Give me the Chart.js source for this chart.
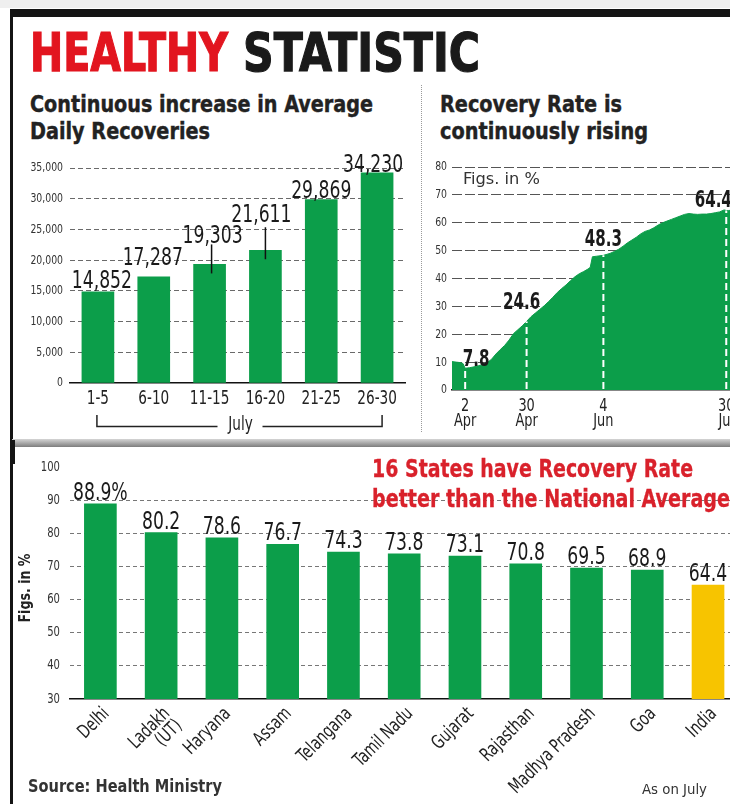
<!DOCTYPE html>
<html><head><meta charset="utf-8">
<script src="https://cdn.jsdelivr.net/npm/chart.js@4.4.0/dist/chart.umd.min.js"></script>
<style>
html,body{margin:0;padding:0;width:730px;height:804px;overflow:hidden;background:#fff;}
#root{position:relative;width:730px;height:804px;overflow:hidden;}
.abs{position:absolute;}
.t{position:absolute;white-space:nowrap;line-height:1;transform-origin:0 0;}
canvas{position:absolute;}
</style></head><body><div id="root">
<div class="abs" style="left:0;top:0;width:730px;height:8px;background:#efefef"></div>
<div class="abs" style="left:10px;top:9px;width:720px;height:8px;background:#141414"></div>
<div class="abs" style="left:10px;top:9px;width:2.5px;height:795px;background:#141414"></div>
<div class="abs" style="left:12px;top:439px;width:718px;height:8px;background:linear-gradient(#d5d5d5,#7d7d7d)"></div>
<div class="abs" style="left:10px;top:440px;width:5px;height:24px;background:#141414"></div>
<div class="abs" style="left:421px;top:85px;height:347px;border-left:1.5px dotted #9a9a9a"></div>
<canvas id="c1" width="420" height="290" style="left:0;top:150px;width:420px;height:290px"></canvas>
<canvas id="c2" width="330" height="290" style="left:421px;top:150px;width:330px;height:290px"></canvas>
<canvas id="c3" width="760" height="354" style="left:0;top:450px;width:760px;height:354px"></canvas>
</div>
<script>
// ---------- data ----------
const periodLabels = ['1-5','6-10','11-15','16-20','21-25','26-30'];
const avgRecoveries = [14852,17287,19303,21611,29869,34230];

// day number counted from 31 March (1 = 1 Apr)
const recDays  = [-4,-2,0,1,2,4,6,8,10,12,14,16,18,20,22,24,26,28,30,32,34,36,38,40,42,44,46,48,50,52,54,56,58,59,60,62,65,68,70,72,74,76,78,80,82,84,86,88,90,92,94,96,98,100,102,104,106,108,110,112,114,116,118,120,121,122,124];
const recRates = [10.2,10.0,9.8,9.5,7.8,8.0,8.3,8.7,9.1,9.8,11.0,12.9,14.5,16.0,17.9,20.2,21.6,23.0,24.6,26.3,27.6,28.9,30.2,31.7,33.3,35.0,36.4,37.7,39.2,40.6,41.7,42.5,43.4,44.0,47.8,48.0,48.3,49.0,49.7,50.5,51.6,52.8,53.8,54.8,56.0,56.9,57.4,58.2,59.2,60.0,60.6,61.2,61.8,62.4,63.0,63.3,63.1,63.0,63.1,63.1,63.3,63.6,63.9,64.6,64.4,64.4,64.5];
const markerDays = [2,30,65,121];
const markerRates = [7.8,24.6,48.3,64.4];
const markerTickLabels = [['2','Apr'],['30','Apr'],['4','Jun'],['30','Jul']];

const stateNames = ['Delhi',['Ladakh','(UT)'],'Haryana','Assam','Telangana','Tamil Nadu','Gujarat','Rajasthan','Madhya Pradesh','Goa','India'];
const stateRates = [88.9,80.2,78.6,76.7,74.3,73.8,73.1,70.8,69.5,68.9,64.4];

// ---------- fonts ----------
function pickFont(cands){
  const c=document.createElement('canvas').getContext('2d');
  const s='abcdefghijklmnopqrstuvwxyzABCDEFGH0123456789';
  c.font='40px monospace'; const base=c.measureText(s).width;
  for(const f of cands){ c.font='40px "'+f+'", monospace'; if(Math.abs(c.measureText(s).width-base)>0.5) return f; }
  return 'Liberation Sans';
}
const NF = pickFont(['Liberation Sans Narrow','DejaVu Sans Condensed','Roboto Condensed','Arial Narrow','Liberation Sans']);
const FF = '"'+NF+'", "Liberation Sans", sans-serif';
const mc=document.createElement('canvas').getContext('2d');
mc.font='100px '+FF; const SX=Math.min(1,456/mc.measureText('0123456789').width);
mc.font='bold 100px '+FF; const SXB=Math.min(1,456/mc.measureText('0123456789').width);
const GREEN='#0c9e4a', YELLOW='#f7c400', INK='#1a1a1a';

function txt(ctx,s,x,y,o){
  ctx.save(); ctx.translate(x,y); if(o.rot) ctx.rotate(o.rot);
  ctx.scale(o.bold?SXB:SX,1);
  ctx.font=(o.bold?'bold ':'')+o.size+'px '+FF; ctx.fillStyle=o.color||INK;
  ctx.textAlign=o.align||'center'; ctx.textBaseline=o.base||'alphabetic';
  ctx.fillText(s,0,0); ctx.restore();
}

const root=document.getElementById('root');
function addText(html,o){
  const el=document.createElement('div'); el.className='t'; el.innerHTML=html;
  el.style.fontFamily=FF; el.style.fontSize=o.fs+'px'; el.style.fontWeight=o.weight||'bold';
  el.style.color=o.color||INK; el.style.left=o.left+'px'; el.style.top=(o.base-0.8465*o.fs)+'px';
  if(o.stroke) el.style.webkitTextStroke=o.stroke;
  el.style.zIndex=5; root.appendChild(el);
  const nat=el.getBoundingClientRect().width; el.style.transform='scaleX('+(o.w/nat)+')';
}
addText('HEALTHY',{left:30,base:72,fs:54,w:198,color:'#e2151f',stroke:'1.2px'});
addText('STATISTIC',{left:243,base:72,fs:54,w:237,color:'#1a1a1a',stroke:'1.2px'});
addText('Continuous increase in Average',{left:30,base:112,fs:23,w:343,color:'#222',stroke:'0.4px'});
addText('Daily Recoveries',{left:30,base:139,fs:23,w:180,color:'#222',stroke:'0.4px'});
addText('Recovery Rate is',{left:440,base:112,fs:23,w:182,color:'#222',stroke:'0.4px'});
addText('continuously rising',{left:440,base:139,fs:23,w:208,color:'#222',stroke:'0.4px'});
addText('Figs. in %',{left:463,base:185,fs:16,w:77,color:'#333',weight:'normal'});
addText('16 States have Recovery Rate',{left:372,base:477,fs:24,w:321,color:'#d9212b',stroke:'0.3px'});
addText('better than the National Average',{left:372,base:507,fs:24,w:358,color:'#d9212b',stroke:'0.3px'});
addText('Source: Health Ministry',{left:28,base:792,fs:17,w:194,color:'#333'});
addText('As on July',{left:642,base:794,fs:14,w:65,color:'#333',weight:'normal'});

const common={responsive:false,animation:false,plugins:{legend:{display:false},tooltip:{enabled:false}}};

// ---------- chart 1 ----------
new Chart(document.getElementById('c1'),{
  type:'bar',
  data:{labels:periodLabels,datasets:[{data:avgRecoveries,backgroundColor:GREEN,barThickness:32}]},
  options:Object.assign({},common,{
    layout:{padding:{top:18,right:15,left:0,bottom:0}},
    scales:{
      x:{grid:{display:false},border:{display:true,color:'#111',width:1.5},ticks:{display:false},afterFit:s=>{s.height=57;}},
      y:{min:0,max:35000,ticks:{stepSize:5000,display:false},
         grid:{drawTicks:false,color:c=>c.tick.value===0?'rgba(0,0,0,0)':'#6a6a6a',lineWidth:1},
         border:{display:false,dash:[5,3]},afterFit:s=>{s.width=70;}}
    }
  }),
  plugins:[{id:'c1Labels',afterDatasetsDraw(chart){
    const ctx=chart.ctx, meta=chart.getDatasetMeta(0), xs=chart.scales.x, ys=chart.scales.y, ca=chart.chartArea;
    ys.ticks.forEach(t=>txt(ctx,t.value.toLocaleString('en-US'),ca.left-7,ys.getPixelForValue(t.value),{size:13,color:'#333',align:'right',base:'middle'}));
    periodLabels.forEach((l,i)=>txt(ctx,l,xs.getPixelForValue(i),ca.bottom+20.5,{size:19,color:'#222'}));
    const offs=[[4,-12],[-1,-20],[3,-30],[-4,-37],[0,-10],[-4,-9]];
    const leaders={2:[2,10,9],3:[0,14,9]};
    meta.data.forEach((b,i)=>{
      const cy=b.y+offs[i][1];
      txt(ctx,avgRecoveries[i].toLocaleString('en-US'),b.x+offs[i][0],cy+8.6,{size:24});
      const L=leaders[i];
      if(L){ctx.save();ctx.strokeStyle='#111';ctx.lineWidth=1.5;ctx.beginPath();ctx.moveTo(b.x+L[0],cy+L[1]);ctx.lineTo(b.x+L[0],b.y+L[2]);ctx.stroke();ctx.restore();}
    });
    const yb=ca.bottom, x0=xs.getPixelForValue(0)-1, x1=xs.getPixelForValue(periodLabels.length-1)+5, mid=(x0+x1)/2;
    ctx.save(); ctx.strokeStyle='#222'; ctx.lineWidth=1.5; ctx.beginPath();
    ctx.moveTo(x0,yb+32); ctx.lineTo(x0,yb+43.5); ctx.lineTo(mid-22,yb+43.5);
    ctx.moveTo(mid+23,yb+43.5); ctx.lineTo(x1,yb+43.5); ctx.lineTo(x1,yb+32); ctx.stroke(); ctx.restore();
    txt(ctx,'July',mid+1,yb+47,{size:19,color:'#222'});
  }}]
});

// ---------- chart 2 ----------
new Chart(document.getElementById('c2'),{
  type:'line',
  data:{datasets:[{data:recDays.map((d,i)=>({x:d,y:recRates[i]})),fill:'origin',backgroundColor:GREEN,borderColor:GREEN,borderWidth:1,pointRadius:0,tension:0}]},
  options:Object.assign({},common,{
    layout:{padding:{top:17,right:5,left:0,bottom:0}},
    scales:{
      x:{type:'linear',min:-4,max:130,grid:{display:false},border:{display:true,color:'#111',width:1.5},
         afterBuildTicks:ax=>{ax.ticks=markerDays.map(v=>({value:v}));},
         ticks:{display:false},afterFit:s=>{s.height=50;}},
      y:{min:0,max:80,ticks:{stepSize:10,display:false},
         grid:{drawTicks:false,color:c=>c.tick.value===0?'rgba(0,0,0,0)':'#555',lineWidth:1},
         border:{display:false,dash:[10,3]},afterFit:s=>{s.width=31;}}
    }
  }),
  plugins:[{id:'c2Marks',afterDatasetsDraw(chart){
    const ctx=chart.ctx, xs=chart.scales.x, ys=chart.scales.y, ca=chart.chartArea;
    ys.ticks.forEach(t=>txt(ctx,String(t.value),ca.left-5,ys.getPixelForValue(t.value),{size:13,color:'#333',align:'right',base:'middle'}));
    xs.ticks.forEach(t=>{const lab=markerTickLabels[markerDays.indexOf(t.value)], x=xs.getPixelForValue(t.value);
      txt(ctx,lab[0],x,ca.bottom+21,{size:18,color:'#222'}); txt(ctx,lab[1],x,ca.bottom+36,{size:18,color:'#222'});});
    ctx.save(); ctx.strokeStyle='#fff'; ctx.lineWidth=2; ctx.setLineDash([7,4]);
    markerDays.forEach((d,i)=>{const x=xs.getPixelForValue(d);ctx.beginPath();ctx.moveTo(x,ys.getPixelForValue(0)-1);ctx.lineTo(x,ys.getPixelForValue(markerRates[i]));ctx.stroke();});
    ctx.restore();
    const offs=[[11,-11],[-5,-21],[0,-18],[-13,-12]];
    markerDays.forEach((d,i)=>txt(ctx,markerRates[i].toFixed(1),xs.getPixelForValue(d)+offs[i][0],ys.getPixelForValue(markerRates[i])+offs[i][1]+8.3,{size:23,bold:true}));
  }}]
});

// ---------- chart 3 ----------
new Chart(document.getElementById('c3'),{
  type:'bar',
  data:{labels:stateNames,datasets:[{data:stateRates,backgroundColor:stateNames.map(n=>n==='India'?YELLOW:GREEN),barThickness:32}]},
  options:Object.assign({},common,{
    layout:{padding:{top:17,right:21.6,left:0,bottom:0}},
    scales:{
      x:{grid:{display:false},border:{display:true,color:'#111',width:1.5},ticks:{display:false},afterFit:s=>{s.height=105;}},
      y:{min:30,max:100,ticks:{stepSize:10,display:false},
         grid:{drawTicks:false,color:c=>(c.tick.value===30||c.tick.value===100)?'rgba(0,0,0,0)':'#777',lineWidth:1},
         border:{display:false,dash:[4,3]},afterFit:s=>{s.width=70;}}
    }
  }),
  plugins:[{id:'c3Labels',afterDatasetsDraw(chart){
    const ctx=chart.ctx, meta=chart.getDatasetMeta(0), xs=chart.scales.x, ys=chart.scales.y, ca=chart.chartArea;
    ys.ticks.forEach(t=>txt(ctx,String(t.value),ca.left-10,ys.getPixelForValue(t.value),{size:14,color:'#333',align:'right',base:'middle'}));
    const rot=-45*Math.PI/180, s=Math.sin(-rot), c=Math.cos(rot);
    stateNames.forEach((n,i)=>{
      const lines=Array.isArray(n)?n:[n], x=xs.getPixelForValue(i)+6, y=ca.bottom+12;
      lines.forEach((l,k)=>txt(ctx,l,x+k*17*s,y+k*17*c,{size:19,color:'#222',align:'right',base:'middle',rot}));
    });
    meta.data.forEach((b,i)=>txt(ctx,stateRates[i].toFixed(1)+(i===0?'%':''),b.x,b.y-4,{size:24}));
    ctx.save(); ctx.translate(26,138); ctx.rotate(-Math.PI/2);
    ctx.font='bold 16px '+FF; const w=ctx.measureText('Figs. in %').width; ctx.scale(69/w,1);
    ctx.fillStyle='#222'; ctx.textAlign='center'; ctx.textBaseline='middle'; ctx.fillText('Figs. in %',0,0);
    ctx.restore();
  }}]
});
</script>
</body></html>
